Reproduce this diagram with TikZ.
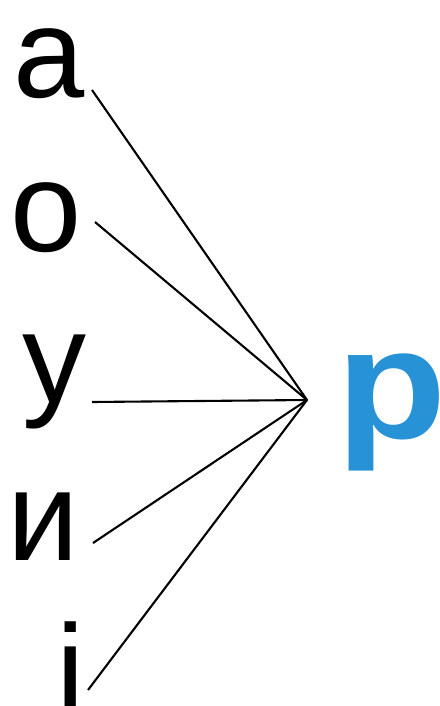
\documentclass[tikz,border=0pt]{standalone}
\usepackage{fontspec}
\setmainfont{Liberation Sans}
\definecolor{pblue}{RGB}{40,146,214}
\begin{document}
\begin{tikzpicture}[x=1pt,y=-1pt,
  letter/.style={inner sep=0pt,outer sep=0pt,anchor=base west,font=\fontsize{128}{128}\selectfont},
  conn/.style={line width=2.1pt,black}]
\useasboundingbox[fill=white] (0,0) rectangle (439,706);
\node[letter] (a) at (13,98) {а};
\node[letter] (o) at (10,251) {о};
\node[letter] (u) at (22,402) {у};
\node[letter] (i) at (8,560) {и};
\node[letter] (ii) at (56,714) {і};
\node[inner sep=0pt,anchor=base west,text=pblue,xscale=1.15,font=\bfseries\fontsize{157}{157}\selectfont] (p) at (336,438) {р};
\coordinate (c) at (307,400);
\coordinate (sa) at (92,90);
\coordinate (so) at (95,222);
\coordinate (su) at (92,402);
\coordinate (si) at (93,543);
\coordinate (sii) at (88,690);
\foreach \s in {sa,so,su,si,sii} \draw[conn] (\s) -- (c);
\end{tikzpicture}
\end{document}
